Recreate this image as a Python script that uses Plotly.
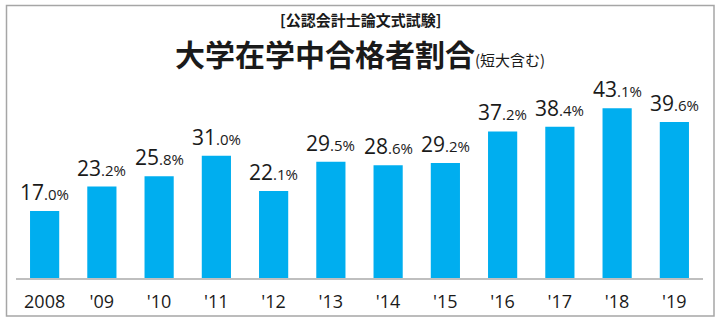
import plotly.graph_objects as go

years = ["2008", "'09", "'10", "'11", "'12", "'13", "'14", "'15", "'16", "'17", "'18", "'19"]
values = [17.0, 23.2, 25.8, 31.0, 22.1, 29.5, 28.6, 29.2, 37.2, 38.4, 43.1, 39.6]
subtitle = "[公認会計士論文式試験]"
title_main = "大学在学中合格者割合"
title_note = "(短大含む)"

W, H = 720, 324
x0, x1 = 16, 703
ybot, ytop = 278, 81

idx = list(range(len(years)))

fig = go.Figure()
fig.add_trace(go.Bar(
    x=idx, y=values, marker=dict(color="#00AEEF", line=dict(width=0)),
    width=0.51, hoverinfo="skip",
))

annotations = []
for i, v in zip(idx, values):
    s = f"{v:.1f}"
    ip, dp = s.split(".")
    annotations.append(dict(
        x=i, y=v, xref="x", yref="y", yanchor="bottom", xanchor="center",
        showarrow=False, yshift=3,
        text=f"{ip}<span style='font-size:15px'>.{dp}%</span>",
        font=dict(family="Open Sans", size=21, color="#1a1a1a"),
    ))

annotations.append(dict(
    x=0.5, y=1 - 19 / H, xref="paper", yref="paper", showarrow=False,
    xanchor="center", yanchor="middle",
    text=f"<b>{subtitle}</b>",
    font=dict(family="Noto Sans CJK JP", size=15, color="#1a1a1a"),
))
annotations.append(dict(
    x=0.5, y=1 - 53 / H, xref="paper", yref="paper", showarrow=False,
    xanchor="center", yanchor="middle",
    text=f"<b>{title_main}</b><span style='font-size:15px'>{title_note}</span>",
    font=dict(family="Noto Sans CJK JP", size=30, color="#1a1a1a"),
))

fig.update_layout(
    width=W, height=H,
    margin=dict(l=0, r=0, t=0, b=0),
    paper_bgcolor="white", plot_bgcolor="white",
    showlegend=False,
    annotations=annotations,
    shapes=[dict(type="rect", xref="paper", yref="paper",
                 x0=6.5 / W, x1=714 / W, y0=1 - 316 / H, y1=1 - 5.5 / H,
                 line=dict(color="#A6A6A6", width=1.5), fillcolor="rgba(0,0,0,0)")],
    xaxis=dict(
        domain=[x0 / W, x1 / W], range=[-0.5, len(years) - 0.5],
        tickmode="array", tickvals=idx, ticktext=years,
        showline=True, linecolor="#BFBFBF", linewidth=1.5,
        showgrid=False, ticks="", zeroline=False,
        tickfont=dict(family="Open Sans", size=18, color="#1a1a1a"),
        ticklabelstandoff=7,
    ),
    yaxis=dict(
        domain=[1 - ybot / H, 1 - ytop / H], range=[0, 50],
        visible=False, showgrid=False, zeroline=False,
    ),
)

fig.write_html("out.html")
